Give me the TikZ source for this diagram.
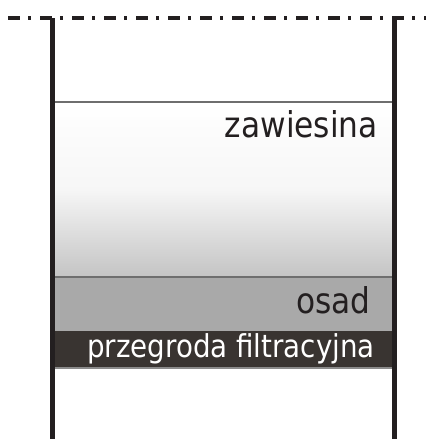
\documentclass[tikz,border=0pt]{standalone}
\usepackage{fontspec}
\setmainfont{DejaVu Sans}[FakeStretch=0.88]
\definecolor{wallc}{HTML}{231F20}
\definecolor{osadc}{HTML}{A9A9A9}
\definecolor{przc}{HTML}{393431}
\definecolor{zawbot}{HTML}{C4C4C4}
\definecolor{linec}{HTML}{6E6E6E}
\tikzset{
  wall/.style={draw=wallc, line width=5pt},
  topline/.style={draw=wallc, line width=4pt, dash pattern=on 12pt off 8pt on 3pt off 9pt},
  sep/.style={draw=linec, line width=1.2pt},
  lbl/.style={anchor=base east, inner sep=0pt, text=wallc},
}
\begin{document}
\begin{tikzpicture}[x=1pt,y=-1pt]
\useasboundingbox (0,0) rectangle (426,439);
% zawiesina gradient
\shade[top color=white, bottom color=zawbot, middle color=white!85!zawbot] (52,102) rectangle (395,277);
% osad
\fill[osadc] (52,277) rectangle (395,331);
% przegroda
\fill[przc] (52,331) rectangle (395,367);
% separators
\draw[sep] (52,102) -- (395,102);
\draw[sep] (52,277) -- (395,277);
\draw[draw=przc, line width=1pt] (52,331) -- (395,331);
\draw[draw=linec!80, line width=2pt] (52,367.5) -- (395,367.5);
% walls
\draw[wall] (52.5,18) -- (52.5,439);
\draw[wall] (394.5,18) -- (394.5,439);
% top dash-dot line
\draw[topline] (8,17.5) -- (426,17.5);
% labels
\node[lbl, font=\fontsize{35.5}{36}\selectfont] (zaw) at (378,137) {zawiesina};
\node[lbl, font=\fontsize{35.5}{36}\selectfont] (osad) at (371,313) {osad};
\node[lbl, text=white, font=\fontsize{31.5}{33}\selectfont] (prz) at (375,357) {przegroda filtracyjna};
\end{tikzpicture}
\end{document}
